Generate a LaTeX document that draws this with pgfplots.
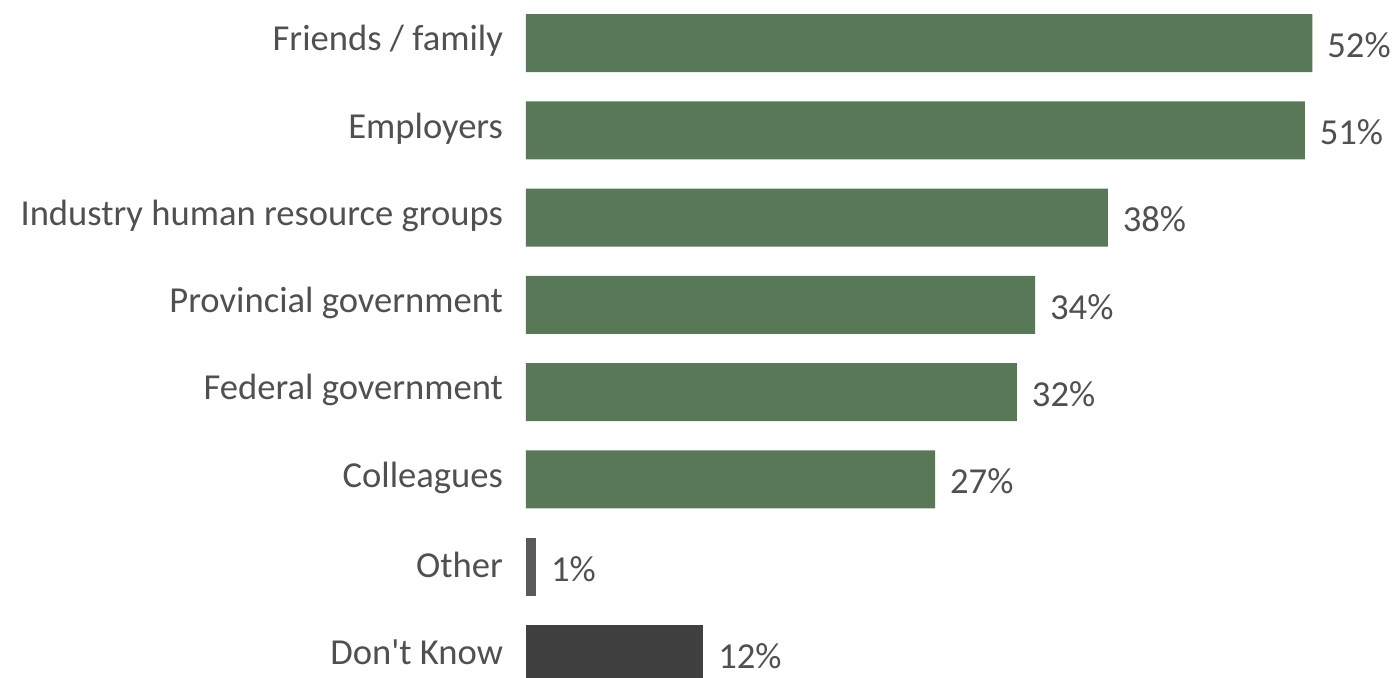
\documentclass[border=0pt]{standalone}
\usepackage{fontspec}
\setmainfont{Carlito}[Ligatures=TeXOff]
\usepackage{pgfplots}
\usepackage{pgfplotstable}
\pgfplotsset{compat=1.18}
\definecolor{barGreen}{HTML}{587858}
\definecolor{barOther}{HTML}{595959}
\definecolor{barDK}{HTML}{404040}
\definecolor{txt}{HTML}{505050}
\pgfplotstableread{
y val lab
0 51.9 52\%
1 51.4 51\%
2 38.4 38\%
3 33.6 34\%
4 32.4 32\%
5 27.0 27\%
}\greendata
\pgfplotstableread{
y val lab
6 0.66 1\%
}\otherdata
\pgfplotstableread{
y val lab
7 11.7 12\%
}\dkdata
\begin{document}
\begin{tikzpicture}[x=0.5pt,y=0.5pt]
\path[use as bounding box] (0,0) rectangle (1399,678);
\begin{axis}[
  at={(263pt,0pt)}, anchor=south west,
  scale only axis,
  width=436.5pt, height=339pt,
  xbar, bar width=29pt, bar shift=0pt,
  xmin=0, xmax=57.62,
  ymin=-0.4926, ymax=7.274, y dir=reverse,
  axis line style={draw=none},
  xtick=\empty,
  ytick={0,1,2,3,4,5,6,7},
  yticklabels={Friends / family,Employers,Industry human resource groups,Provincial government,Federal government,Colleagues,Other,{Don't Know}},
  major tick length=0pt,
  yticklabel style={font=\fontsize{18.3}{22}\selectfont, text=txt, anchor=east, xshift=-8pt, yshift=1pt},
  nodes near coords,
  point meta=explicit symbolic,
  nodes near coords style={font=\fontsize{18.3}{22}\selectfont, text=txt, anchor=west, xshift=4pt, yshift=-1pt},
  clip=true,
]
\addplot[draw=none, fill=barGreen] table[x=val, y=y, meta=lab] {\greendata};
\addplot[draw=none, fill=barOther] table[x=val, y=y, meta=lab] {\otherdata};
\addplot[draw=none, fill=barDK] table[x=val, y=y, meta=lab] {\dkdata};
\end{axis}
\end{tikzpicture}
\end{document}
